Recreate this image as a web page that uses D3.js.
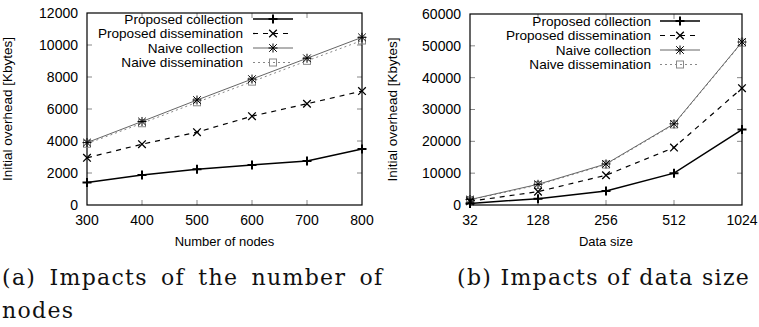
<!DOCTYPE html>
<html><head><meta charset="utf-8">
<script src="https://cdn.jsdelivr.net/npm/d3@7"></script>
<style>body{margin:0;background:#fff}svg{display:block}text{font-family:"Liberation Sans",Arial,sans-serif}</style>
</head><body><svg id="c" width="759" height="327"></svg>
<script>
const seriesNames = ["Proposed collection","Proposed dissemination","Naive collection","Naive dissemination"];
// Panel (a)
const nodesX = [300,400,500,600,700,800];
const aPropColl = [1400,1880,2230,2500,2750,3500];
const aPropDiss = [2950,3800,4550,5550,6330,7120];
const aNaiveColl = [3900,5220,6560,7870,9170,10480];
const aNaiveDiss = [3830,5110,6420,7710,9010,10280];
const aYTicks = [0,2000,4000,6000,8000,10000,12000];
// Panel (b)
const sizeCats = ["32","128","256","512","1024"];
const bPropColl = [500,2000,4400,10000,23700];
const bPropDiss = [1150,4200,9350,18050,36700];
const bNaiveColl = [1700,6500,12900,25500,51200];
const bNaiveDiss = [1550,6300,12700,25300,51000];
const bYTicks = [0,10000,20000,30000,40000,50000,60000];

const svg = d3.select("#c");
const styles = [
  {stroke:"#000", w:1.5, dash:null, marker:"plus", mc:"#000", mw:2},
  {stroke:"#000", w:1.2, dash:"5,5", marker:"cross", mc:"#000", mw:1.3},
  {stroke:"#666", w:1, dash:null, marker:"star", mc:"#000", mw:1},
  {stroke:"#888", w:1, dash:"2,3", marker:"square", mc:"#888", mw:1}
];
function marker(g, type, x, y, st){
  const s=4.5;
  if(type==="plus"){
    g.append("path").attr("d",`M${x-s},${y}H${x+s}M${x},${y-s}V${y+s}`).attr("stroke",st.mc).attr("stroke-width",st.mw).attr("fill","none");
  } else if(type==="cross"){
    const t=3.8;
    g.append("path").attr("d",`M${x-t},${y-t}L${x+t},${y+t}M${x-t},${y+t}L${x+t},${y-t}`).attr("stroke",st.mc).attr("stroke-width",st.mw).attr("fill","none");
  } else if(type==="star"){
    const t=3.8;
    g.append("path").attr("d",`M${x-s},${y}H${x+s}M${x},${y-s}V${y+s}M${x-t},${y-t}L${x+t},${y+t}M${x-t},${y+t}L${x+t},${y-t}`).attr("stroke",st.mc).attr("stroke-width",st.mw).attr("fill","none");
  } else {
    g.append("rect").attr("x",x-3.5).attr("y",y-3.5).attr("width",7).attr("height",7).attr("stroke",st.mc).attr("stroke-width",st.mw).attr("fill","none");
  }
}
function panel(o){
  const g = svg.append("g");
  const {x,y,xs,series,xlabel,ylabelX,legTextEnd,legX0,legX1,legY} = o;
  const [x0,x1]=x.range(), [y0,y1]=y.range();
  const tk=5;
  o.yTicks.forEach(v=>{
    const yy=y(v);
    if(v!==o.yTicks[0] && v!==o.yTicks[o.yTicks.length-1]){
      g.append("line").attr("x1",x0).attr("x2",x0+tk).attr("y1",yy).attr("y2",yy).attr("stroke","#888");
      g.append("line").attr("x1",x1).attr("x2",x1-tk).attr("y1",yy).attr("y2",yy).attr("stroke","#888");
    }
    g.append("text").attr("x",x0-9).attr("y",yy).attr("dy","0.35em").attr("text-anchor","end").attr("font-size",14).text(v);
  });
  xs.forEach((v,i)=>{
    const xx=x(v);
    if(i>0 && i<xs.length-1){
      g.append("line").attr("x1",xx).attr("x2",xx).attr("y1",y0).attr("y2",y0-tk).attr("stroke","#888");
      g.append("line").attr("x1",xx).attr("x2",xx).attr("y1",y1).attr("y2",y1+tk).attr("stroke","#888");
    }
    g.append("text").attr("x",xx).attr("y",y0+20).attr("text-anchor","middle").attr("font-size",14).text(v);
  });
  g.append("rect").attr("x",x0).attr("y",y1).attr("width",x1-x0).attr("height",y0-y1).attr("fill","none").attr("stroke","#000").attr("stroke-width",1.2);
  g.append("text").attr("x",(x0+x1)/2).attr("y",y0+41).attr("text-anchor","middle").attr("font-size",13).text(xlabel);
  g.append("text").attr("transform",`translate(${ylabelX},${(y0+y1)/2}) rotate(-90)`).attr("text-anchor","middle").attr("font-size",13.5).text("Initial overhead [Kbytes]");
  const line=d3.line().x((d,i)=>x(xs[i])).y(d=>y(d));
  [3,2,1,0].forEach(si=>{
    const st=styles[si];
    g.append("path").attr("d",line(series[si])).attr("fill","none").attr("stroke",st.stroke).attr("stroke-width",st.w).attr("stroke-dasharray",st.dash);
    series[si].forEach((v,i)=>marker(g,st.marker,x(xs[i]),y(v),st));
  });
  seriesNames.forEach((n,i)=>{
    const st=styles[i], ly=legY[i];
    g.append("text").attr("x",legTextEnd).attr("y",ly).attr("dy","0.35em").attr("text-anchor","end").attr("font-size",13.6).text(n);
    g.append("line").attr("x1",legX0).attr("x2",legX1).attr("y1",ly).attr("y2",ly).attr("stroke",st.stroke).attr("stroke-width",st.w).attr("stroke-dasharray",st.dash);
    marker(g,st.marker,(legX0+legX1)/2,ly,st);
  });
}
panel({
  x:d3.scaleLinear().domain([300,800]).range([87,362]),
  y:d3.scaleLinear().domain([0,12000]).range([205,13]),
  xs:nodesX, yTicks:aYTicks, series:[aPropColl,aPropDiss,aNaiveColl,aNaiveDiss],
  xlabel:"Number of nodes", ylabelX:12, legTextEnd:243, legX0:253, legX1:293, legY:[19,33.5,48,62.5]
});
panel({
  x:d3.scalePoint().domain(sizeCats).range([470,742]),
  y:d3.scaleLinear().domain([0,60000]).range([205,14]),
  xs:sizeCats, yTicks:bYTicks, series:[bPropColl,bPropDiss,bNaiveColl,bNaiveDiss],
  xlabel:"Data size", ylabelX:397, legTextEnd:651, legX0:660, legX1:700, legY:[21,35.5,50,64.5]
});
// captions
const cap = svg.append("g");
function capText(x,y,str){
  return cap.append("text").attr("x",x).attr("y",y).style("font-family","'DejaVu Serif',serif").style("font-size","22px").style("letter-spacing","1.3px").attr("fill","#111").text(str);
}
capText(457,285,"(b) Impacts of data size");
capText(2,285,"(a) Impacts of the number of").style("word-spacing","5px");
capText(2,318,"nodes");
</script></body></html>
